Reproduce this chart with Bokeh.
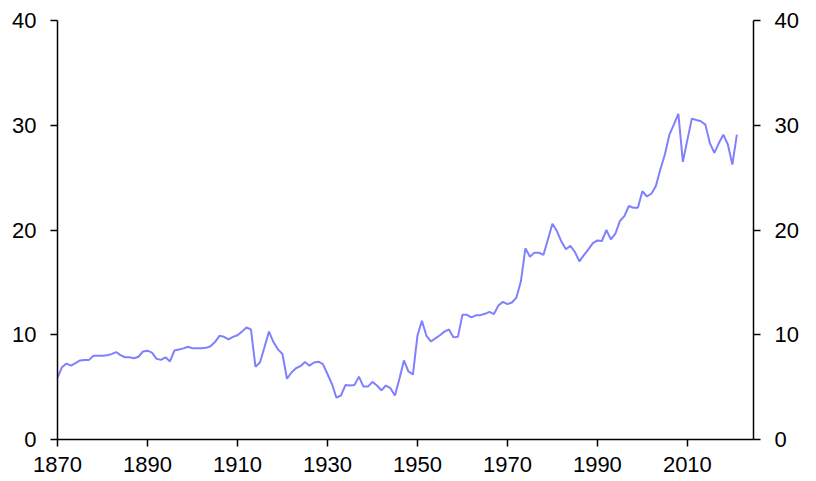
from bokeh.plotting import figure
from bokeh.models import LinearAxis, FixedTicker, Range1d, ColumnDataSource
from bokeh.embed import file_html
from bokeh.resources import INLINE

start_year = 1870
values = [
    5.9, 6.9, 7.25, 7.05, 7.3, 7.55, 7.6, 7.6, 8.0, 8.0,          # 1870-1879
    8.0, 8.05, 8.15, 8.35, 8.05, 7.85, 7.85, 7.75, 7.9, 8.4,      # 1880-1889
    8.48, 8.3, 7.7, 7.6, 7.85, 7.45, 8.5, 8.6, 8.7, 8.86,         # 1890-1899
    8.7, 8.7, 8.7, 8.75, 8.9, 9.3, 9.9, 9.8, 9.55, 9.8,           # 1900-1909
    9.95, 10.3, 10.7, 10.5, 6.95, 7.35, 8.8, 10.3, 9.3, 8.6,      # 1910-1919
    8.16, 5.8, 6.4, 6.8, 7.0, 7.4, 7.05, 7.35, 7.43, 7.2,         # 1920-1929
    6.25, 5.3, 4.0, 4.2, 5.2, 5.15, 5.2, 6.0, 5.05, 5.05,         # 1930-1939
    5.5, 5.15, 4.7, 5.15, 4.9, 4.2, 5.8, 7.55, 6.5, 6.2,          # 1940-1949
    9.9, 11.33, 9.9, 9.36, 9.65, 9.95, 10.3, 10.5, 9.75, 9.8,     # 1950-1959
    11.9, 11.9, 11.65, 11.85, 11.87, 12.0, 12.19, 11.97, 12.8, 13.14,  # 1960-1969
    12.92, 13.08, 13.55, 15.1, 18.25, 17.45, 17.84, 17.84, 17.62, 19.1,  # 1970-1979
    20.6, 19.9, 18.9, 18.16, 18.48, 17.9, 17.0, 17.6, 18.15, 18.75,  # 1980-1989
    19.0, 18.95, 20.0, 19.1, 19.65, 20.86, 21.33, 22.29, 22.13, 22.13,  # 1990-1999
    23.7, 23.2, 23.46, 24.2, 25.8, 27.2, 29.1, 30.06, 31.1, 26.5,  # 2000-2009
    28.6, 30.63, 30.5, 30.38, 30.06, 28.3, 27.37, 28.3, 29.1, 28.16,  # 2010-2019
    26.25, 29.1,                                                  # 2020-2021
]
years = list(range(start_year, start_year + len(values)))
x_ticks = [1870, 1890, 1910, 1930, 1950, 1970, 1990, 2010]
y_ticks = [0, 10, 20, 30, 40]

FONT = "Liberation Sans"
FS = "22px"

src = ColumnDataSource(data=dict(year=years, value=values))

p = figure(
    frame_width=696, frame_height=419,
    x_range=Range1d(1870, 2024.7), y_range=Range1d(0, 40),
    output_backend="svg", toolbar_location=None,
    min_border_left=57, min_border_top=20, min_border_right=10, min_border_bottom=40,
)
p.outline_line_color = None
p.grid.visible = False
p.background_fill_color = "white"
p.border_fill_color = "white"

p.line("year", "value", source=src, line_color="#8080FF", line_width=2)

def style(ax):
    ax.axis_line_color = "black"
    ax.axis_line_width = 1.5
    ax.major_tick_line_color = "black"
    ax.major_tick_line_width = 1.5
    ax.major_tick_out = 7
    ax.major_tick_in = 0
    ax.minor_tick_line_color = None
    ax.major_label_text_font = FONT
    ax.major_label_text_font_size = FS
    ax.major_label_text_color = "black"

xa = p.xaxis[0]
xa.ticker = FixedTicker(ticks=x_ticks)
style(xa)
xa.major_label_standoff = 10

ya = p.yaxis[0]
ya.ticker = FixedTicker(ticks=y_ticks)
style(ya)
ya.major_label_standoff = 14

ra = LinearAxis(ticker=FixedTicker(ticks=y_ticks))
style(ra)
ra.major_label_standoff = 14
p.add_layout(ra, "right")

open("out.html", "w").write(file_html(p, INLINE))
